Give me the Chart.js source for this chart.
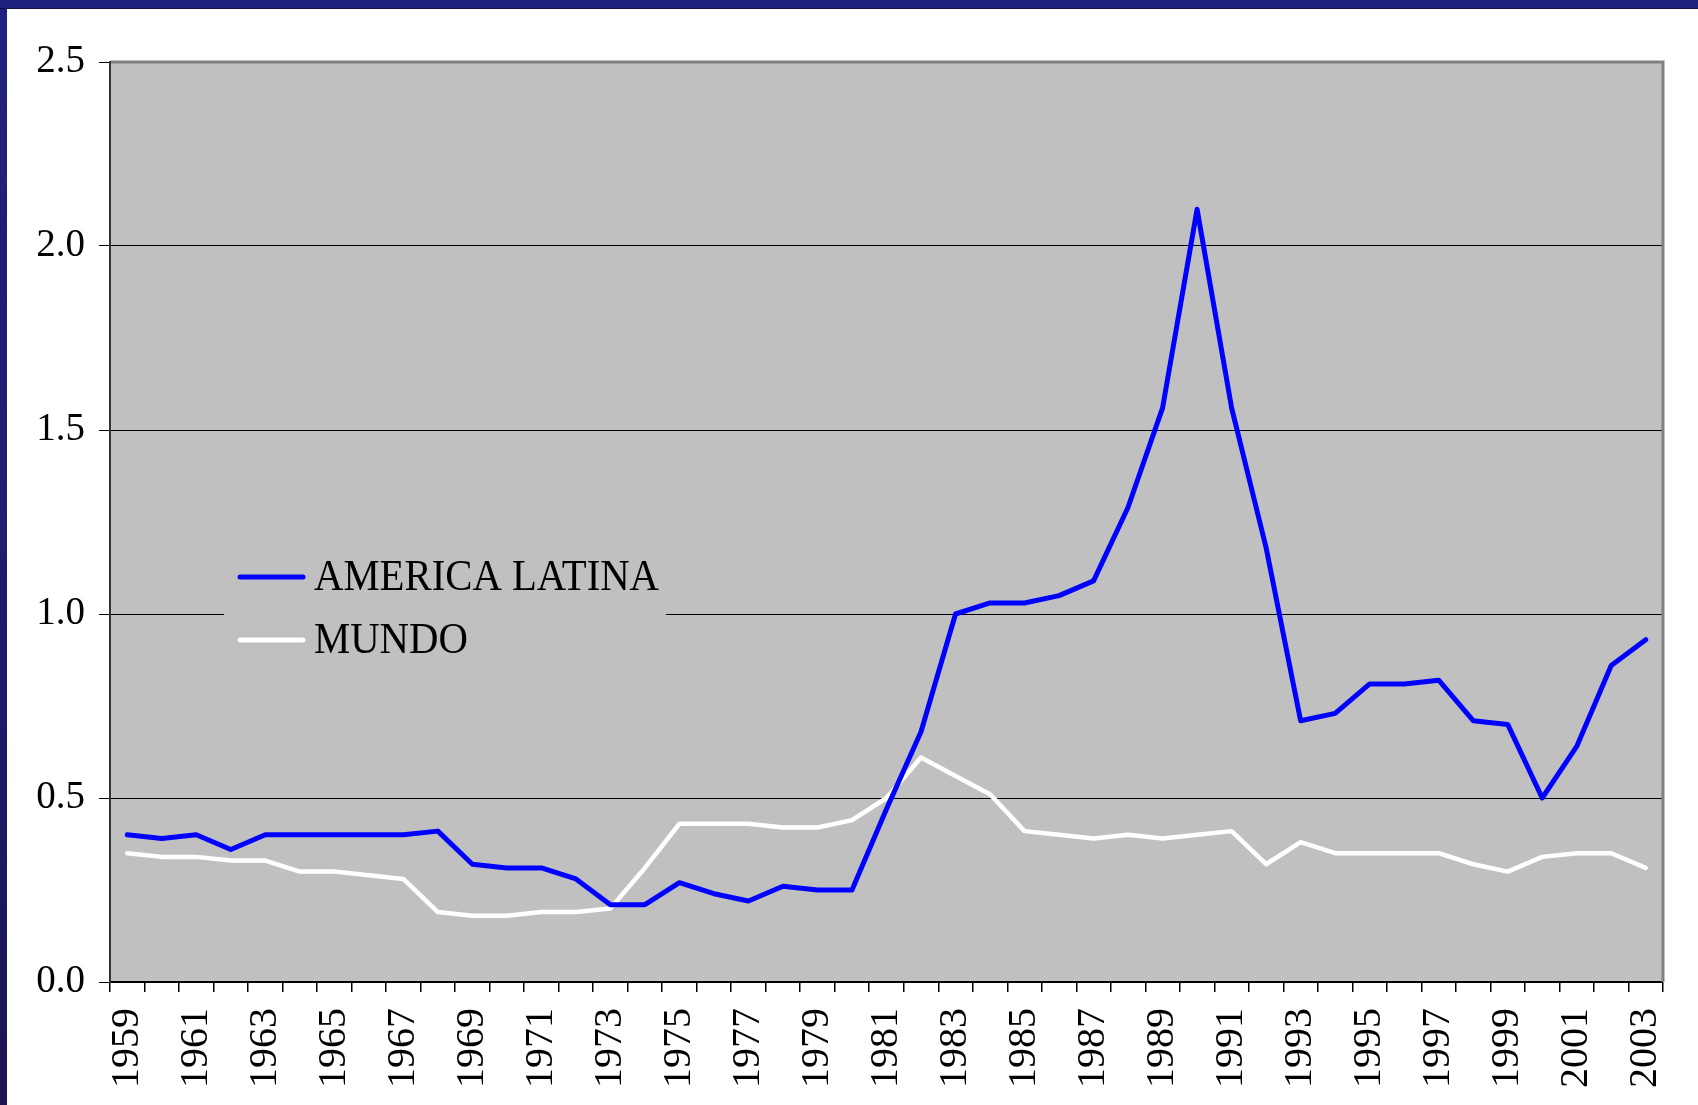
<!DOCTYPE html>
<html>
<head>
<meta charset="utf-8">
<script src="https://cdn.jsdelivr.net/npm/chart.js@4/dist/chart.umd.min.js"></script>
<style>
  html, body { margin: 0; padding: 0; }
  body {
    width: 1698px; height: 1105px; overflow: hidden;
    background: linear-gradient(to bottom, #20207f 0%, #1e1c6a 60%, #1b1650 100%);
    position: relative;
  }
  #topbar { position: absolute; left: 0; top: 0; width: 1698px; height: 8px; background: #1f1f7f; border-bottom: 1px solid #0e0e40; }
  #frame { position: absolute; left: 7px; top: 9px; width: 1691px; height: 1096px; background: #ffffff; }
  canvas { display: block; }
</style>
</head>
<body>
<div id="topbar"></div>
<div id="frame"><canvas id="grafico" width="1691" height="1096"></canvas></div>
<script>
// Datos
const years = ['1959','1960','1961','1962','1963','1964','1965','1966','1967','1968',
               '1969','1970','1971','1972','1973','1974','1975','1976','1977','1978',
               '1979','1980','1981','1982','1983','1984','1985','1986','1987','1988',
               '1989','1990','1991','1992','1993','1994','1995','1996','1997','1998',
               '1999','2000','2001','2002','2003'];
const americaLatina = [0.40,0.39,0.40,0.36,0.40,0.40,0.40,0.40,0.40,0.41,
                       0.32,0.31,0.31,0.28,0.21,0.21,0.27,0.24,0.22,0.26,
                       0.25,0.25,0.47,0.68,1.00,1.03,1.03,1.05,1.09,1.29,
                       1.56,2.10,1.56,1.18,0.71,0.73,0.81,0.81,0.82,0.71,
                       0.70,0.50,0.64,0.86,0.93];
const mundo = [0.35,0.34,0.34,0.33,0.33,0.30,0.30,0.29,0.28,0.19,
               0.18,0.18,0.19,0.19,0.20,0.31,0.43,0.43,0.43,0.42,
               0.42,0.44,0.50,0.61,0.56,0.51,0.41,0.40,0.39,0.40,
               0.39,0.40,0.41,0.32,0.38,0.35,0.35,0.35,0.35,0.32,
               0.30,0.34,0.35,0.35,0.31];
const yTicks = [0, 0.5, 1.0, 1.5, 2.0, 2.5];

const fuente = 'Liberation Serif, Times New Roman, serif';

// Fondo gris del área de trazado y bordes
const fondoPlugin = {
  id: 'fondo',
  beforeDraw(chart) {
    const { ctx, chartArea: a } = chart;
    ctx.save();
    ctx.fillStyle = '#c0c0c0';
    ctx.fillRect(a.left, a.top, a.right - a.left, a.bottom - a.top);
    ctx.restore();
  },
  beforeDatasetsDraw(chart) {
    const { ctx, chartArea: a } = chart;
    ctx.save();
    // borde superior y derecho
    ctx.strokeStyle = '#808080';
    ctx.lineWidth = 3;
    ctx.beginPath();
    ctx.moveTo(a.left + 1, a.top);
    ctx.lineTo(a.right, a.top);
    ctx.lineTo(a.right, a.bottom);
    ctx.stroke();

    // leyenda dentro del área (tapa la línea de 1.0)
    const x0 = a.left + 114, y0 = a.top + 480;
    ctx.fillStyle = '#c0c0c0';
    ctx.fillRect(x0, y0, 442, 130);
    chart.data.datasets.forEach((ds, i) => {
      const ly = y0 + 35 + i * 63;
      ctx.strokeStyle = ds.borderColor;
      ctx.lineWidth = 5;
      ctx.lineCap = 'round';
      ctx.beginPath();
      ctx.moveTo(x0 + 16, ly);
      ctx.lineTo(x0 + 79, ly);
      ctx.stroke();
      ctx.save();
      ctx.translate(x0 + 90, ly + 13);
      ctx.scale(0.905, 1);
      ctx.fillStyle = '#000000';
      ctx.font = '45px ' + fuente;
      ctx.textBaseline = 'alphabetic';
      ctx.fillText(ds.label, 0, 0);
      ctx.restore();
    });
    ctx.restore();
  }
};

new Chart(document.getElementById('grafico'), {
  type: 'line',
  data: {
    labels: years,
    datasets: [
      {
        label: 'AMERICA LATINA',
        data: americaLatina,
        borderColor: '#0000ff',
        borderWidth: 5,
        pointRadius: 0,
        tension: 0,
        borderJoinStyle: 'round',
        borderCapStyle: 'round'
      },
      {
        label: 'MUNDO',
        data: mundo,
        borderColor: '#ffffff',
        borderWidth: 4.5,
        pointRadius: 0,
        tension: 0,
        borderJoinStyle: 'round',
        borderCapStyle: 'round'
      }
    ]
  },
  options: {
    responsive: false,
    animation: false,
    devicePixelRatio: 1,
    layout: { padding: { left: 0, top: 53, right: 35, bottom: 0 } },
    plugins: {
      legend: { display: false },
      tooltip: { enabled: false }
    },
    scales: {
      x: {
        type: 'category',
        offset: true,
        grid: {
          offset: true,
          drawOnChartArea: false,
          drawTicks: true,
          tickLength: 10,
          color: '#000000',
          lineWidth: 1.5
        },
        border: { color: '#000000', width: 2 },
        ticks: {
          autoSkip: false,
          minRotation: 90,
          maxRotation: 90,
          padding: 16,
          color: '#000000',
          font: { family: fuente, size: 40 },
          callback: function (v, i) { return i % 2 === 0 ? this.getLabelForValue(v) : ''; }
        },
        afterFit(scale) {
          scale.height = 123;
          scale.paddingLeft = 0;
          scale.paddingRight = 0;
        }
      },
      y: {
        min: 0,
        max: 2.5,
        afterBuildTicks(scale) { scale.ticks = yTicks.map(v => ({ value: v })); },
        grid: {
          color: '#000000',
          lineWidth: 1,
          tickLength: 11
        },
        border: { color: '#333333', width: 2 },
        ticks: {
          padding: 14,
          color: '#000000',
          font: { family: fuente, size: 39 },
          callback: v => Number(v).toFixed(1)
        },
        afterFit(scale) { scale.width = 103; }
      }
    }
  },
  plugins: [fondoPlugin]
});
</script>
</body>
</html>
